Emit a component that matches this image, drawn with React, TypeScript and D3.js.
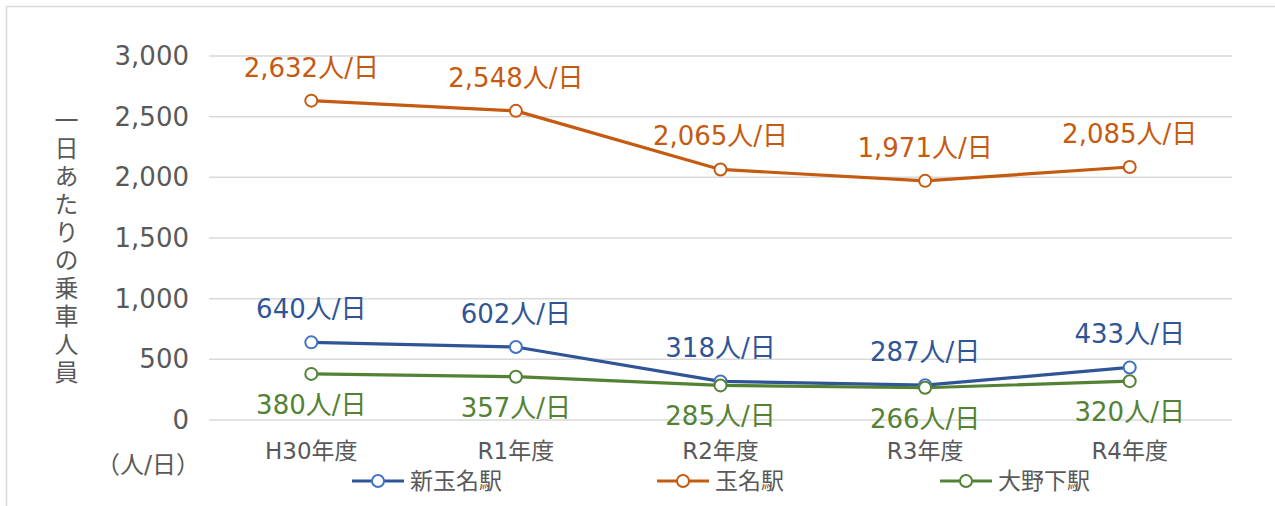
import React from "react";
import * as d3 from "d3";

const categories = ["H30年度", "R1年度", "R2年度", "R3年度", "R4年度"];
const shinTamana = [640, 602, 318, 287, 433];
const tamana = [2632, 2548, 2065, 1971, 2085];
const onoshimo = [380, 357, 285, 266, 320];
const yTicks = [0, 500, 1000, 1500, 2000, 2500, 3000];
const yTitle = "一日あたりの乗車人員";
const unitLabel = "（人/日）";

const W = 1275;
const H = 506;
const FONT = "'DejaVu Sans', 'Noto Sans CJK JP', sans-serif";
const GRAY = "#595959";

const series = [
  { name: "新玉名駅", values: shinTamana, line: "#2F5597", marker: "#4472C4", label: "#2F5597", pos: "above", legendX: 352 },
  { name: "玉名駅", values: tamana, line: "#C55A11", marker: "#C55A11", label: "#C55A11", pos: "above", legendX: 657 },
  { name: "大野下駅", values: onoshimo, line: "#548235", marker: "#548235", label: "#548235", pos: "below", legendX: 940 },
];

export default function App() {
  const x = d3.scaleBand().domain(categories).range([209, 1232]);
  const y = d3.scaleLinear().domain([0, 3000]).range([420, 56]);
  const cx = (c: string) => (x(c) as number) + x.bandwidth() / 2;
  const fmt = d3.format(",");

  return (
    <svg
      width={W}
      height={H}
      style={{ position: "absolute", left: 0, top: 0, display: "block", background: "#fff" }}
      fontFamily={FONT}
    >
      <rect x={6.5} y={6.5} width={W + 10} height={H + 10} fill="#fff" stroke="#D9D9D9" strokeWidth={1.5} />
      {yTicks.map((t) => (
        <g key={t}>
          <line x1={209} x2={1232} y1={y(t)} y2={y(t)} stroke="#D9D9D9" strokeWidth={1.5} />
          <text x={189} y={y(t)} textAnchor="end" dominantBaseline="central" fontSize={26} fill={GRAY}>
            {fmt(t)}
          </text>
        </g>
      ))}
      <text
        x={64}
        y={108}
        fontSize={24}
        fill={GRAY}
        letterSpacing={4}
        style={{ writingMode: "vertical-rl", textOrientation: "upright" } as any}
      >
        {yTitle}
      </text>
      <text x={148} y={465} textAnchor="middle" dominantBaseline="central" fontSize={24} fill={GRAY}>
        {unitLabel}
      </text>
      {categories.map((c) => (
        <text key={c} x={cx(c)} y={451} textAnchor="middle" dominantBaseline="central" fontSize={23} fill={GRAY}>
          {c}
        </text>
      ))}
      {series.map((s) => {
        const line = d3
          .line<number>()
          .x((_, i) => cx(categories[i]))
          .y((v) => y(v));
        return (
          <g key={s.name}>
            <path d={line(s.values) || ""} fill="none" stroke={s.line} strokeWidth={3.2} strokeLinejoin="round" strokeLinecap="round" />
            {s.values.map((v, i) => (
              <circle key={i} cx={cx(categories[i])} cy={y(v)} r={6} fill="#fff" stroke={s.marker} strokeWidth={2} />
            ))}
          </g>
        );
      })}
      {series.map((s) =>
        s.values.map((v, i) => (
          <text
            key={s.name + i}
            x={cx(categories[i])}
            y={s.pos === "above" ? y(v) - 33 : y(v) + 31}
            textAnchor="middle"
            dominantBaseline="central"
            fontSize={26}
            fill={s.label}
          >
            {fmt(v)}人/日
          </text>
        ))
      )}
      {series.map((s) => (
        <g key={"lg" + s.name}>
          <line x1={s.legendX} x2={s.legendX + 52} y1={481} y2={481} stroke={s.line} strokeWidth={3.2} />
          <circle cx={s.legendX + 26} cy={481} r={6} fill="#fff" stroke={s.marker} strokeWidth={2} />
          <text x={s.legendX + 58} y={481} dominantBaseline="central" fontSize={23} fill={GRAY}>
            {s.name}
          </text>
        </g>
      ))}
    </svg>
  );
}
